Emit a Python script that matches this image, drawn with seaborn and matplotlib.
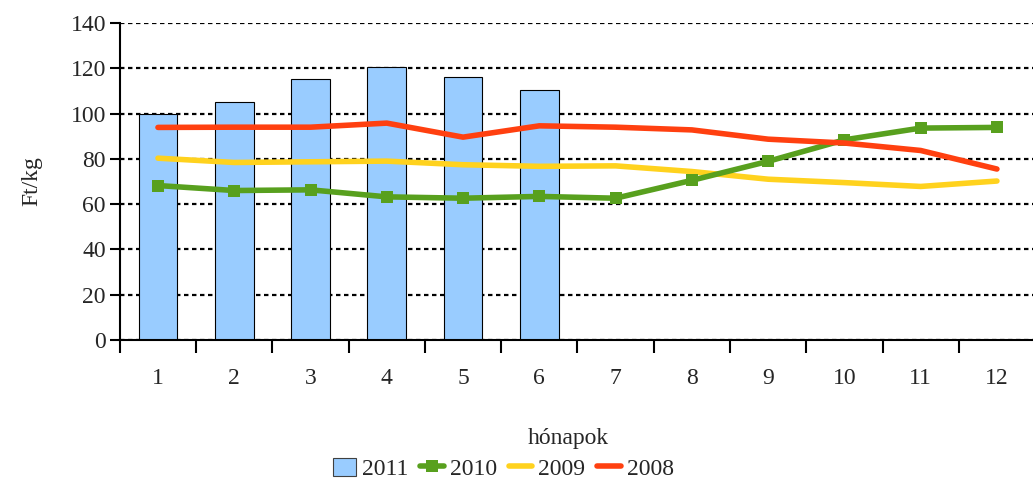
import seaborn as sns
import pandas as pd
import numpy as np
import matplotlib.pyplot as plt
from matplotlib.patches import Patch
from matplotlib.lines import Line2D

months = ["1", "2", "3", "4", "5", "6", "7", "8", "9", "10", "11", "12"]
y2011 = [100, 105, 115.5, 120.5, 116.3, 110.5]
y2010 = [68.2, 66, 66.3, 63.2, 62.6, 63.4, 62.6, 70.5, 78.9, 88.4, 93.6, 93.9]
y2009 = [80.3, 78.4, 78.7, 79, 77.4, 76.7, 76.9, 74.4, 71, 69.5, 67.8, 70.2]
y2008 = [93.9, 94, 94, 95.8, 89.6, 94.6, 94, 92.8, 88.7, 87, 83.7, 75.5]

sns.set_style("white")
plt.rcParams['font.family'] = ['Liberation Serif', 'DejaVu Serif']

fig, ax = plt.subplots(figsize=(10.33, 4.82), dpi=100)
fig.subplots_adjust(left=0.116, right=1.002, top=0.952, bottom=0.295)

bars = pd.DataFrame({"month": months[:6], "val": y2011})
sns.barplot(data=bars, x="month", y="val", order=months, color="#99CCFF",
            edgecolor="black", linewidth=0.8, width=0.51, saturation=1, ax=ax, zorder=2)

pos = np.arange(len(months))
sns.lineplot(x=pos, y=y2009, color="#FFD21E", linewidth=4, ax=ax, zorder=3)
sns.lineplot(x=pos, y=y2008, color="#FF4010", linewidth=4, ax=ax, zorder=4)
sns.lineplot(x=pos, y=y2010, color="#58A01E", linewidth=4, marker="s",
             markersize=9, markeredgewidth=0, ax=ax, zorder=3)

ax.set_xlim(-0.5, 11.5)
ax.set_ylim(0, 140)
ax.set_yticks(range(0, 141, 20))
ax.yaxis.grid(True, color="black", linestyle=(0, (2, 1.6)), linewidth=1.6)
ax.set_axisbelow(True)
ax.set_xticks(pos)
ax.set_xticklabels(months)
ax.set_xticks(np.arange(-0.5, 12, 1), minor=True)
ax.tick_params(axis="x", which="major", length=0, pad=20, labelsize=17)
ax.tick_params(axis="x", which="minor", length=9, width=1.5, direction="out", color="black")
ax.tick_params(axis="y", length=7, width=1.5, direction="out", color="black", labelsize=17, pad=3)
ax.tick_params(left=True, bottom=True, which="both")
for s in ["top", "right"]:
    ax.spines[s].set_visible(False)
for s in ["left", "bottom"]:
    ax.spines[s].set_color("black")
    ax.spines[s].set_linewidth(1.5)

ax.set_ylabel("Ft/kg", fontsize=17, labelpad=20)
ax.set_xlabel("hónapok", fontsize=17, labelpad=38)
ax.xaxis.set_label_coords(0.49, -0.28)

handles = [
    Patch(facecolor="#99CCFF", edgecolor="#404040", linewidth=0.8),
    Line2D([], [], color="#58A01E", linewidth=4, marker="s", markersize=8, markeredgewidth=0),
    Line2D([], [], color="#FFD21E", linewidth=4),
    Line2D([], [], color="#FF4010", linewidth=4),
]
fig.legend(handles, ["2011", "2010", "2009", "2008"], loc="center", bbox_to_anchor=(0.487, 0.027),
           ncol=4, frameon=False, fontsize=17, handlelength=1.0, handleheight=0.8,
           handletextpad=0.25, columnspacing=0.5)

plt.savefig("out.png")
